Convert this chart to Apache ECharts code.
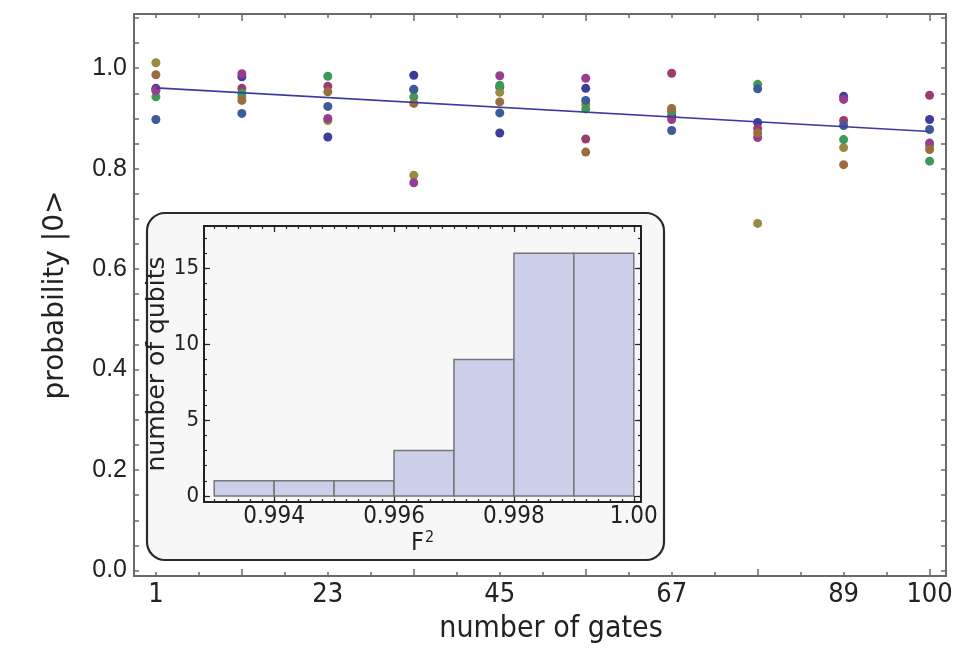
<!DOCTYPE html>
<html>
<head>
<meta charset="utf-8">
<script src="https://cdn.jsdelivr.net/npm/echarts@6/dist/echarts.min.js"></script>
<style>
  html, body { margin: 0; padding: 0; background: #fff; }
  #container { width: 972px; height: 664px; }
</style>
</head>
<body>
<div id="container"></div>
<script>
var dom = document.getElementById('container');
var myChart = echarts.init(dom);

// gate counts (x) and measured probability per qubit colour
let gates = [1, 12, 23, 34, 45, 56, 67, 78, 89, 100]
let darkBlue = [0.960, 0.983, 0.863, 0.986, 0.871, 0.960, 0.905, 0.892, 0.944, 0.898]
let redPurple = [0.957, 0.960, 0.964, 0.957, 0.962, 0.859, 0.990, 0.880, 0.896, 0.946]
let olive = [1.011, 0.943, 0.896, 0.787, 0.952, 0.928, 0.915, 0.691, 0.842, 0.845]
let green = [0.943, 0.950, 0.984, 0.943, 0.966, 0.919, 0.913, 0.968, 0.858, 0.815]
let blue = [0.898, 0.910, 0.924, 0.958, 0.911, 0.936, 0.876, 0.959, 0.886, 0.878]
let magenta = [0.955, 0.989, 0.900, 0.772, 0.985, 0.980, 0.898, 0.862, 0.938, 0.851]
let brown = [0.987, 0.936, 0.953, 0.930, 0.933, 0.833, 0.920, 0.871, 0.808, 0.838]
// fitted decay line (endpoints)
let fitLine = [[1, 0.961], [100, 0.874]]

// axis ticks / labels
let xLabels = [1, 23, 45, 67, 89, 100]
let xLongTicks = [12, 34, 56, 78, 100]
let yLabels = [0, 0.2, 0.4, 0.6, 0.8, 1.0]

// inset histogram of F^2
let binStart = [0.993, 0.994, 0.995, 0.996, 0.997, 0.998, 0.999]
let binCount = [1, 1, 1, 3, 9, 16, 16]
let histXLabels = [0.994, 0.996, 0.998, 1.0]
let histYLabels = [0, 5, 10, 15]

let seriesColors = ['#3f3d99', '#993d71', '#998b3d', '#3d9956', '#3d5a99', '#993d90', '#996d3d']
let seriesData = [darkBlue, redPurple, olive, green, blue, magenta, brown]

function range(a, b, step) {
    let out = []
    for (let i = 0; a + i * step <= b + 1e-9; i++) out.push(+(a + i * step).toFixed(6))
    return out
}
let xShortTicks = range(1, 100, 5.5)
let yTicks = range(0, 1.1, 0.05)
let histXTicks = range(0.993, 1.0, 0.0002)
let histYTicks = range(0, 17, 1)

const frameColor = '#6a6a6a'
const histFrame = '#222'
const regular = '"Liberation Sans", Arial, sans-serif'
const wide = '"DejaVu Sans", sans-serif'
const narrow = '"DejaVu Sans Condensed", "Liberation Sans Narrow", sans-serif'

function xAx(opt) {
    return Object.assign({
        type: 'value', gridIndex: 0, min: -1.8, max: 102.1,
        axisLine: { show: true, onZero: false, lineStyle: { color: frameColor, width: 2 } },
        splitLine: { show: false },
        axisLabel: { show: false },
        axisTick: { show: true, inside: true, length: 4, lineStyle: { color: frameColor, width: 1.5 } }
    }, opt)
}
function yAx(opt) {
    return Object.assign({
        type: 'value', gridIndex: 0, min: -0.011, max: 1.108,
        axisLine: { show: true, onZero: false, lineStyle: { color: frameColor, width: 2 } },
        splitLine: { show: false },
        axisLabel: { show: false },
        axisTick: { show: true, inside: true, length: 5, customValues: yTicks, lineStyle: { color: frameColor, width: 1.5 } }
    }, opt)
}
function hxAx(opt) {
    return Object.assign({
        type: 'value', gridIndex: 1, min: 0.99283, max: 1.00012,
        axisLine: { show: true, onZero: false, lineStyle: { color: histFrame, width: 2 } },
        splitLine: { show: false },
        axisLabel: { show: false },
        axisTick: { show: true, inside: true, length: 3, customValues: histXTicks, lineStyle: { color: histFrame, width: 1.2 } }
    }, opt)
}
function hyAx(opt) {
    return Object.assign({
        type: 'value', gridIndex: 1, min: -0.4, max: 17.8,
        axisLine: { show: true, onZero: false, lineStyle: { color: histFrame, width: 2 } },
        splitLine: { show: false },
        axisLabel: { show: false },
        axisTick: { show: true, inside: true, length: 3, customValues: histYTicks, lineStyle: { color: histFrame, width: 1.2 } }
    }, opt)
}

let scatterSeries = seriesData.map(function (vals, i) {
    return {
        type: 'scatter',
        xAxisIndex: 0, yAxisIndex: 0,
        symbolSize: 9,
        itemStyle: { color: seriesColors[i], opacity: 1 },
        data: gates.map(function (g, k) { return [g, vals[k]] })
    }
})

option = {
    backgroundColor: '#fff',
    animation: false,
    graphic: {
        elements: [{
            type: 'rect',
            z: -10,
            shape: { x: 147, y: 213, width: 517, height: 347, r: 18 },
            style: { fill: '#f6f7f6', stroke: '#2a2a2a', lineWidth: 2.2 }
        }]
    },
    grid: [
        { left: 134, right: 26, top: 14, bottom: 88 },
        { left: 204, right: 331, top: 226, bottom: 162 }
    ],
    xAxis: [
        xAx({
            position: 'bottom',
            name: 'number of gates', nameLocation: 'middle', nameGap: 38,
            nameTextStyle: { fontFamily: narrow, fontSize: 30, color: '#222', padding: [0, 0, 0, 22] },
            axisTick: { show: true, inside: true, length: 4, customValues: xShortTicks, lineStyle: { color: frameColor, width: 1.5 } },
            axisLabel: { show: true, customValues: xLabels, margin: 5, fontFamily: narrow, fontSize: 27, color: '#222' }
        }),
        xAx({ position: 'bottom', axisLine: { show: false, onZero: false },
            axisTick: { show: true, inside: true, length: 7, customValues: xLongTicks, lineStyle: { color: frameColor, width: 1.5 } } }),
        xAx({ position: 'top',
            axisTick: { show: true, inside: true, length: 4, customValues: xShortTicks, lineStyle: { color: frameColor, width: 1.5 } } }),
        xAx({ position: 'top', axisLine: { show: false, onZero: false },
            axisTick: { show: true, inside: true, length: 7, customValues: xLongTicks, lineStyle: { color: frameColor, width: 1.5 } } }),
        // inset
        hxAx({
            position: 'bottom',
            name: '{f|F}{s|2}', nameLocation: 'middle', nameGap: 24,
            nameTextStyle: {
                color: '#222',
                rich: {
                    f: { fontFamily: narrow, fontSize: 25, color: '#222' },
                    s: { fontFamily: narrow, fontSize: 16, color: '#222', verticalAlign: 'top', padding: [0, 0, 12, 1] }
                }
            },
            axisLabel: { show: true, customValues: histXLabels, margin: 3, fontFamily: narrow, fontSize: 24, color: '#222',
                formatter: function (v) { return v === 1 ? '1.00' : v.toFixed(3) } }
        }),
        hxAx({ position: 'bottom', axisLine: { show: false, onZero: false },
            axisTick: { show: true, inside: true, length: 6, customValues: histXLabels, lineStyle: { color: histFrame, width: 1.2 } } }),
        hxAx({ position: 'top' }),
        hxAx({ position: 'top', axisLine: { show: false, onZero: false },
            axisTick: { show: true, inside: true, length: 6, customValues: histXLabels, lineStyle: { color: histFrame, width: 1.2 } } })
    ],
    yAxis: [
        yAx({
            position: 'left',
            name: 'probability |0>', nameLocation: 'middle', nameGap: 64,
            nameTextStyle: { fontFamily: wide, fontSize: 28, color: '#222' },
            axisLabel: { show: true, customValues: yLabels, margin: 7, fontFamily: regular, fontSize: 25, color: '#222',
                formatter: function (v) { return v.toFixed(1) } }
        }),
        yAx({ position: 'right' }),
        // inset
        hyAx({
            position: 'left',
            name: 'number of qubits', nameLocation: 'middle', nameGap: 18,
            nameTextStyle: { fontFamily: wide, fontSize: 25, color: '#222' },
            axisLabel: { show: true, customValues: histYLabels, margin: 5, fontFamily: narrow, fontSize: 22, color: '#222' }
        }),
        hyAx({ position: 'left', axisLine: { show: false, onZero: false },
            axisTick: { show: true, inside: true, length: 6, customValues: histYLabels, lineStyle: { color: histFrame, width: 1.2 } } }),
        hyAx({ position: 'right' }),
        hyAx({ position: 'right', axisLine: { show: false, onZero: false },
            axisTick: { show: true, inside: true, length: 6, customValues: histYLabels, lineStyle: { color: histFrame, width: 1.2 } } })
    ],
    series: [{
        type: 'line',
        xAxisIndex: 0, yAxisIndex: 0,
        symbol: 'none',
        lineStyle: { color: '#3c3ca0', width: 1.6 },
        data: fitLine,
        z: 3
    }].concat(scatterSeries).concat([{
        type: 'custom',
        xAxisIndex: 4, yAxisIndex: 2,
        renderItem: function (params, api) {
            let p0 = api.coord([api.value(0), api.value(2)])
            let p1 = api.coord([api.value(1), 0])
            return {
                type: 'rect',
                shape: { x: p0[0], y: p0[1], width: p1[0] - p0[0], height: p1[1] - p0[1] },
                style: { fill: '#cbcfe9', stroke: '#777', lineWidth: 1.5 }
            }
        },
        encode: { x: [0, 1], y: 2 },
        data: binStart.map(function (s, i) { return [s, +(s + 0.001).toFixed(3), binCount[i]] })
    }])
};
myChart.setOption(option);

window.addEventListener("resize", function () {
    myChart.resize();
});
</script>
</body>
</html>
